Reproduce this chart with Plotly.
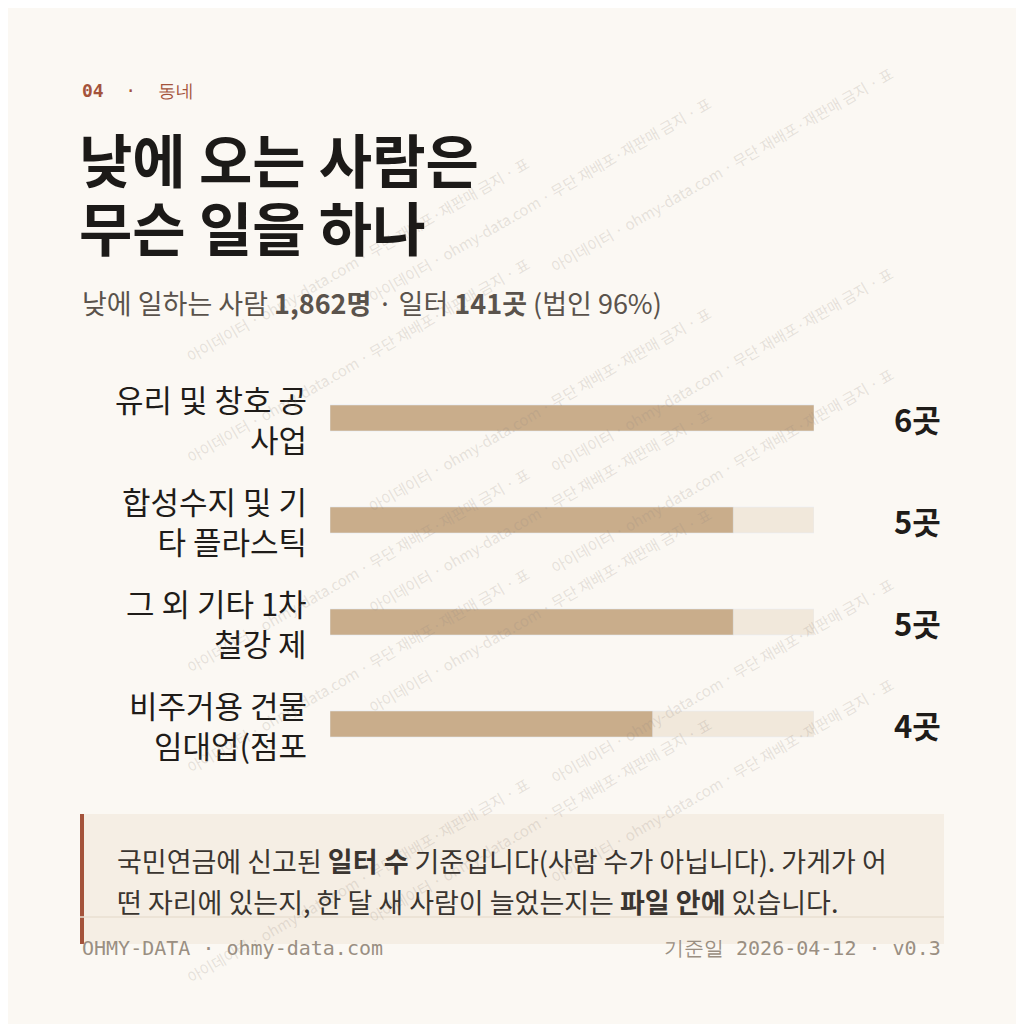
import plotly.graph_objects as go

categories = ["유리 및 창호 공<br>사업", "합성수지 및 기<br>타 플라스틱", "그 외 기타 1차<br>철강 제", "비주거용 건물<br>임대업(점포"]
values = [6, 5, 5, 4]
max_val = 6
value_labels = ["6곳", "5곳", "5곳", "4곳"]

W = 1024
OFF = 8
def px(x): return (x - OFF) / W
def py(y): return 1 - (y - OFF) / W

ys = list(range(len(categories)))
fig = go.Figure()
fig.add_trace(go.Bar(y=ys, x=[max_val]*len(ys), orientation="h", marker_color="#f1e8db",
                     width=0.255, hoverinfo="skip"))
fig.add_trace(go.Bar(y=ys, x=values, orientation="h", marker_color="#c9ad8b", width=0.255))

CJK = "Noto Sans CJK KR"
MONO = "DejaVu Sans Mono"
ann = []
for i, (c, v) in enumerate(zip(categories, value_labels)):
    ann.append(dict(x=px(309), y=i, xref="paper", yref="y", text=c, showarrow=False,
                    xanchor="right", yanchor="middle", align="right",
                    font=dict(family=CJK, size=31, color="#1f1c19")))
    ann.append(dict(x=px(943), y=i, xref="paper", yref="y", text=v, showarrow=False,
                    xanchor="right", yanchor="middle",
                    font=dict(family=CJK, size=31, color="#1f1c19", weight="bold")))

def t(x, y, text, size, color, family=CJK, xanchor="left", **kw):
    ann.append(dict(x=px(x), y=py(y), xref="paper", yref="paper", text=text, showarrow=False,
                    xanchor=xanchor, yanchor="middle", align="left",
                    font=dict(family=family, size=size, color=color), **kw))

# watermark
wm = "아이데이터 · ohmy-data.com · 무단 재배포·재판매 금지 · 표"
for cx, cy in [(180, 150), (540, 90), (900, 60), (180, 360), (540, 300), (900, 260),
               (180, 570), (540, 510), (900, 470), (180, 780), (540, 720), (900, 680),
               (180, 990), (540, 930), (900, 890)]:
    ann.append(dict(x=px(cx), y=py(cy), xref="paper", yref="paper", text=wm, showarrow=False,
                    textangle=-30, font=dict(family=CJK, size=15, color="rgba(150,140,130,0.22)")))

t(80, 90, "<b>04</b>  ·  동네", 18, "#a4533b", family=MONO)
t(77, 158, "<b>낮에 오는 사람은</b>", 58, "#1c1a18")
t(77, 226, "<b>무슨 일을 하나</b>", 58, "#1c1a18")
t(80, 302, "낮에 일하는 사람 <b>1,862명</b> · 일터 <b>141곳</b> (법인 96%)", 27, "#5a534c")
t(115, 860, "국민연금에 신고된 <b>일터 수</b> 기준입니다(사람 수가 아닙니다). 가게가 어", 27, "#3a3530")
t(115, 901, "떤 자리에 있는지, 한 달 새 사람이 늘었는지는 <b>파일 안에</b> 있습니다.", 27, "#3a3530")
t(80, 948, "OHMY-DATA · ohmy-data.com", 20, "#9a8f82", family=MONO)
t(943, 948, "기준일 2026-04-12 · v0.3", 20, "#9a8f82", family=MONO, xanchor="right")

shapes = [
    dict(type="rect", xref="paper", yref="paper", x0=px(80), x1=px(944), y0=py(944), y1=py(814),
         fillcolor="#f5eee4", line_width=0, layer="below"),
    dict(type="rect", xref="paper", yref="paper", x0=px(80), x1=px(84), y0=py(944), y1=py(814),
         fillcolor="#a4533b", line_width=0),
    dict(type="line", xref="paper", yref="paper", x0=px(80), x1=px(944), y0=py(917), y1=py(917),
         line=dict(color="#e8dfd2", width=1.5)),
]

fig.update_layout(
    width=1024, height=1024, margin=dict(l=0, r=0, t=0, b=0),
    paper_bgcolor="#fbf8f3", plot_bgcolor="rgba(0,0,0,0)",
    barmode="overlay", showlegend=False,
    xaxis=dict(domain=[px(330), px(814)], range=[0, max_val], visible=False, fixedrange=True),
    yaxis=dict(domain=[py(775), py(367)], range=[3.5, -0.5], visible=False, fixedrange=True),
    annotations=ann, shapes=shapes,
)
fig.write_html("out.html")
